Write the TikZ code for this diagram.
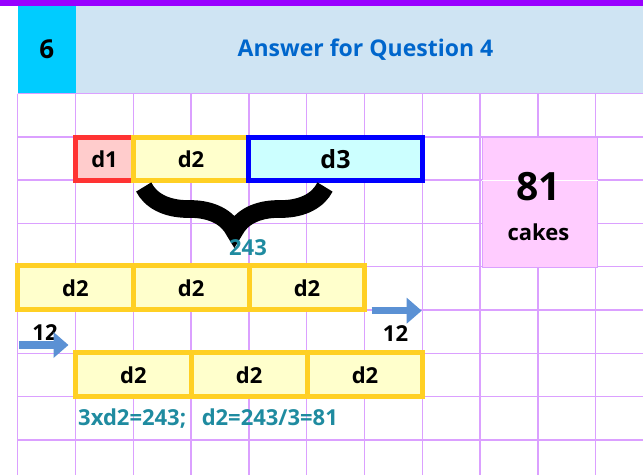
\documentclass[tikz,border=0pt]{standalone}
\usepackage{fontspec}
\setmainfont{Open Sans}
\usepackage{tikz}
\usetikzlibrary{arrows.meta,positioning,decorations.pathreplacing}
\definecolor{topbar}{RGB}{153,0,255}
\definecolor{numfill}{RGB}{0,204,255}
\definecolor{hdrfill}{RGB}{207,228,243}
\definecolor{hdrtext}{RGB}{0,102,204}
\definecolor{gridv}{RGB}{219,160,255}
\definecolor{redbd}{RGB}{255,51,51}
\definecolor{redfl}{RGB}{255,204,204}
\definecolor{goldbd}{RGB}{255,208,36}
\definecolor{goldfl}{RGB}{255,255,204}
\definecolor{bluebd}{RGB}{0,0,255}
\definecolor{bluefl}{RGB}{204,255,255}
\definecolor{pinkfl}{RGB}{255,204,255}
\definecolor{tealtx}{RGB}{31,139,160}
\definecolor{mvblue}{RGB}{91,145,212}
\tikzset{
  cell/.style    ={draw,line width=5pt,inner sep=0pt,minimum height=42.5pt,
                   font=\bfseries\fontsize{22}{26}\selectfont},
  onecell/.style ={cell,draw=redbd,fill=redfl,minimum width=58pt},
  twocell/.style ={cell,draw=goldbd,fill=goldfl,minimum width=115pt},
  threecell/.style={cell,draw=bluebd,fill=bluefl,minimum width=174pt,
                   font=\bfseries\fontsize{25}{29}\selectfont},
  rowcell/.style ={twocell,minimum width=115.8pt,minimum height=43.8pt},
  gridln/.style  ={gridv,line width=1.4pt},
  lbl/.style     ={inner sep=0pt,font=\bfseries\fontsize{22}{26}\selectfont},
  teallbl/.style ={lbl,tealtx},
  mv/.style      ={-{Triangle[length=15pt,width=25pt]},line width=7.5pt,mvblue},
}
\begin{document}
\begin{tikzpicture}[x=1pt,y=-1pt,node distance=-5pt]
  \useasboundingbox (0,0) rectangle (643,475);
  % header
  \fill[topbar] (0,0) rectangle (643,5.5);
  \fill[numfill] (17.7,5.5) rectangle (76,93.5);
  \fill[hdrfill] (76,5.5) rectangle (643,93.5);
  \node[lbl,font=\bfseries\fontsize{26}{30}\selectfont] (qnum) at (46.8,49.5) {6};
  \node[lbl,hdrtext,font=\bfseries\fontsize{23}{27}\selectfont] (title) at (365.5,49.5) {Answer for Question 4};
  % grid
  \foreach \i in {0,...,10}
    \draw[gridln] ({17.7+57.8*\i},93.5) -- ({17.7+57.8*\i},475);
  \foreach \j in {0,...,8}
    \draw[gridln] (17.7,{93.5+43.3*\j}) -- (643,{93.5+43.3*\j});
  % d1 d2 d3
  \node[onecell] (t1) at (104.5,158.8) {d1};
  \node[twocell, right=of t1] (t2) {d2};
  \node[threecell, right=of t2] (t3) {d3};
  \draw[decorate,decoration={brace,amplitude=44pt,mirror},line width=17.7pt]
        (143.7,187) -- (325,187);
  \node[teallbl] (sum) at (248,247.5) {243};
  % answer
  \node[draw=gridv,line width=1.4pt,fill=pinkfl,minimum width=115pt,minimum height=129.9pt,
        anchor=north west] (ans) at (481.7,136.8) {};
  \draw[white,line width=1pt] (ans.west |- 0,180.1) -- (ans.east |- 0,180.1);
  \node[lbl,font=\bfseries\fontsize{39}{43}\selectfont] (num) at (538.5,187) {81};
  \node[lbl] (cakes) at (538.5,232.5) {cakes};
  % first row
  \node[rowcell] (a1) at (75.4,287.8) {d2};
  \node[rowcell, right=of a1] (a2) {d2};
  \node[rowcell, right=of a2] (a3) {d2};
  \coordinate (m1s) at (371.7,310.7);
  \coordinate (m1e) at (421.7,310.7);
  \draw[mv] (m1s) -- (m1e);
  \node[lbl] (s1) at (395.5,334) {12};
  % second row
  \node[lbl] (s2) at (45,333) {12};
  \coordinate (m2s) at (19,345);
  \coordinate (m2e) at (68.5,345);
  \draw[mv] (m2s) -- (m2e);
  \node[rowcell] (b1) at (133.4,374.8) {d2};
  \node[rowcell, right=of b1] (b2) {d2};
  \node[rowcell, right=of b2] (b3) {d2};
  \node[teallbl,anchor=west] (eqn) at (78,418.5) {3xd2=243;\hspace{0.45em} d2=243/3=81};
\end{tikzpicture}
\end{document}
